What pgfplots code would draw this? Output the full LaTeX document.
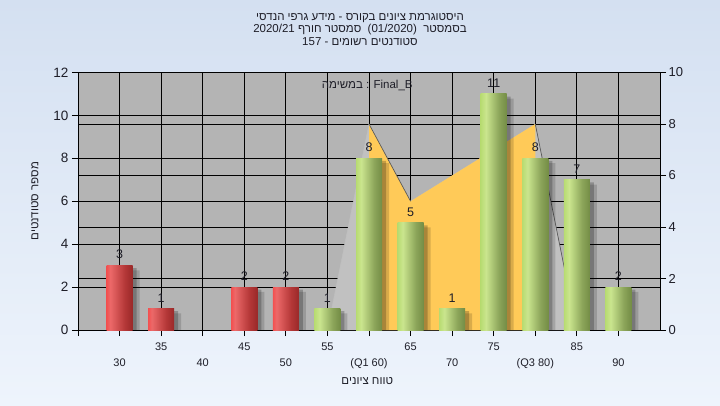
\documentclass[border=0pt]{standalone}
\usepackage{fontspec}
\setmainfont{Liberation Sans}
\newfontfamily\heb[Script=Hebrew]{Liberation Sans}
\TeXXeTstate=1
\usepackage{pgfplots}
\pgfplotsset{compat=1.18}
\definecolor{plotbg}{RGB}{180,180,180}
\definecolor{bgtop}{RGB}{212,224,241}
\definecolor{bgbot}{RGB}{238,244,252}
\definecolor{areagray}{RGB}{193,193,193}
\definecolor{areayel}{RGB}{255,202,88}
\definecolor{rA}{RGB}{255,15,15}
\definecolor{rA2}{RGB}{255,35,35}
\definecolor{rB}{RGB}{236,105,105}
\definecolor{rM}{RGB}{180,55,55}
\definecolor{rC}{RGB}{110,18,18}
\definecolor{gA}{RGB}{150,200,70}
\definecolor{gA2}{RGB}{165,210,85}
\definecolor{gB}{RGB}{202,229,142}
\definecolor{gM}{RGB}{140,165,90}
\definecolor{gC}{RGB}{75,100,35}
\definecolor{txt}{RGB}{30,30,40}
\pgfdeclarehorizontalshading{redbar}{100bp}{color(0bp)=(rA); color(12bp)=(rA2); color(32bp)=(rB); color(60bp)=(rM); color(100bp)=(rC)}
\pgfdeclarehorizontalshading{greenbar}{100bp}{color(0bp)=(gA); color(15bp)=(gA2); color(35bp)=(gB); color(60bp)=(gM); color(100bp)=(gC)}
\pgfplotsset{
  shadowA/.style={ybar, bar width=26pt, bar shift=4pt, fill=black, draw=none, opacity=0.22},
  shadowB/.style={ybar, bar width=26pt, bar shift=7pt, fill=black, draw=none, opacity=0.15},
  barlab/.style={nodes near coords, nodes near coords style={font=\fontsize{12.5}{13}\selectfont, text=txt, yshift=3pt}},
  redb/.style={ybar, bar width=26pt, bar shift=0pt, shading=redbar, draw=none, barlab},
  greenb/.style={ybar, bar width=26pt, bar shift=0pt, shading=greenbar, draw=none, barlab},
}
\begin{document}
\begin{tikzpicture}[x=1pt,y=1pt]
\shade[top color=bgtop,bottom color=bgbot] (0,0) rectangle (720,405);
\node[font=\fontsize{11.5}{12}\selectfont, text=txt] at (360,387) {\heb\beginR היסטוגרמת ציונים בקורס - מידע גרפי הנדסי\endR};
\node[font=\fontsize{11.5}{12}\selectfont, text=txt] at (360,375) {2020/21 \heb\beginR סמסטר חורף\endR{}\ \ (01/2020)\ \ \heb\beginR בסמסטר\endR};
\node[font=\fontsize{11.5}{12}\selectfont, text=txt] at (360,363) {157 - \heb\beginR סטודנטים רשומים\endR};
% right axis (drawn first: background and its grid)
\begin{axis}[at={(78pt,75pt)}, anchor=south west, width=582pt, height=257.5pt, scale only axis,
  xmin=-1, xmax=13, ymin=0, ymax=10,
  axis background/.style={fill=plotbg},
  axis x line=none, axis y line*=right,
  ytick={0,2,4,6,8,10}, xtick=\empty,
  ymajorgrids, grid style={black, line width=0.8pt},
  tick align=outside, major tick length=6pt,
  tick style={black, line width=0.8pt},
  axis line style={black, line width=0.8pt},
  /pgf/number format/assume math mode=true,
  yticklabel style={font=\fontsize{13}{13}\selectfont, text=txt, xshift=-1pt},
]
\addplot[draw=none] coordinates {(0,0)};
\end{axis}
% left axis with all plots
\begin{axis}[at={(78pt,75pt)}, anchor=south west, width=582pt, height=257.5pt, scale only axis,
  xmin=-1, xmax=13, ymin=0, ymax=12,
  ytick={0,2,4,6,8,10,12},
  xtick={-1,1,3,5,7,9,11}, xticklabels={,35,45,55,65,75,85},
  extra x ticks={0,2,4,6,8,10,12},
  extra x tick labels={30,40,50,(Q1 60),70,(Q3 80),90},
  extra x tick style={grid=major, xticklabel style={yshift=-16pt}},
  xmajorgrids, ymajorgrids, grid style={black, line width=0.8pt},
  tick align=outside, major tick length=6pt,
  tick style={black, line width=0.8pt},
  axis line style={black, line width=0.8pt},
  xtick pos=bottom, ytick pos=left,
  /pgf/number format/assume math mode=true,
  yticklabel style={font=\fontsize{13.5}{14}\selectfont, text=txt},
  xticklabel style={font=\fontsize{11}{12}\selectfont, text=txt, yshift=-3pt},
  xlabel={\heb\beginR טווח ציונים\endR},
  xlabel style={font=\fontsize{11.5}{12}\selectfont, text=txt, at={(axis description cs:0.497,0)}, anchor=center, yshift=-51pt},
  ylabel={\heb\beginR מספר סטודנטים\endR},
  ylabel style={font=\fontsize{11.5}{12}\selectfont, text=txt, at={(axis description cs:-0.074,0.5)}, anchor=center},
  clip=true,
]
% gray area
\addplot[fill=areagray, draw=none] coordinates {(5,0) (6,9.6) (7,6) (8,7.2) (9,8.4) (10,9.6) (11,0)} -- cycle;
% yellow interquartile area
\addplot[fill=areayel, draw=none] coordinates {(6,0) (6,9.6) (7,6) (8,7.2) (9,8.4) (10,9.6) (10,0)} -- cycle;
\addplot[draw=black!65, line width=0.7pt] coordinates {(6,9.6) (7,6)};
\addplot[draw=black!65, line width=0.7pt] coordinates {(10,9.6) (11,0)};
\addplot[draw=black!25, line width=0.5pt] coordinates {(5,0) (6,9.6)};
% shadows
\addplot[shadowA] coordinates {(0,2.88) (1,0.88) (3,1.88) (4,1.88) (5,0.88) (6,7.88) (7,4.88) (8,0.88) (9,10.88) (10,7.88) (11,6.88) (12,1.88)};
\addplot[shadowB] coordinates {(0,2.78) (1,0.78) (3,1.78) (4,1.78) (5,0.78) (6,7.78) (7,4.78) (8,0.78) (9,10.78) (10,7.78) (11,6.78) (12,1.78)};
% bars, one plot each so that each bar gets its own shading
\addplot[redb] coordinates {(0,3)};
\addplot[redb] coordinates {(1,1)};
\addplot[redb] coordinates {(3,2)};
\addplot[redb] coordinates {(4,2)};
\addplot[greenb] coordinates {(5,1)};
\addplot[greenb] coordinates {(6,8)};
\addplot[greenb] coordinates {(7,5)};
\addplot[greenb] coordinates {(8,1)};
\addplot[greenb] coordinates {(9,11)};
\addplot[greenb] coordinates {(10,8)};
\addplot[greenb] coordinates {(11,7)};
\addplot[greenb] coordinates {(12,2)};
\node[font=\fontsize{11.5}{12}\selectfont, text=txt] at (axis description cs:0.497,0.951) {\heb\beginR במשימה\endR{} : Final\_B};
\end{axis}
\end{tikzpicture}
\end{document}
